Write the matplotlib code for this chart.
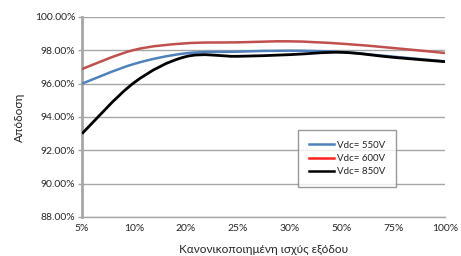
import matplotlib
matplotlib.use("Agg")
import matplotlib.pyplot as plt
from matplotlib.path import Path
from matplotlib.patches import PathPatch
from matplotlib.lines import Line2D
from matplotlib.ticker import FuncFormatter

categories = ["5%", "10%", "20%", "25%", "30%", "50%", "75%", "100%"]
vdc550 = [96.00, 97.18, 97.82, 97.92, 97.98, 97.90, 97.62, 97.34]
vdc600 = [96.88, 98.02, 98.42, 98.48, 98.54, 98.40, 98.14, 97.84]
vdc850 = [93.00, 96.05, 97.62, 97.64, 97.74, 97.88, 97.58, 97.32]
labels = ["Vdc= 550V", "Vdc= 600V", "Vdc= 850V"]
line_colors = ["#4F81BD", "#C0504D", "#000000"]
legend_colors = ["#4F81BD", "#FF2020", "#000000"]

plt.rcParams['font.family'] = ['Lato', 'DejaVu Sans']

fig = plt.figure(figsize=(4.61, 2.56), dpi=100)
ax = fig.add_axes([82/461, 1-217/256, (445-82)/461, (217-17)/256])

def smooth_path(xs, ys):
    pts = list(zip(xs, ys))
    verts = [pts[0]]
    codes = [Path.MOVETO]
    n = len(pts)
    for i in range(n - 1):
        p0 = pts[i - 1] if i > 0 else pts[i]
        p1 = pts[i]
        p2 = pts[i + 1]
        p3 = pts[i + 2] if i + 2 < n else pts[i + 1]
        c1 = (p1[0] + (p2[0] - p0[0]) / 6, p1[1] + (p2[1] - p0[1]) / 6)
        c2 = (p2[0] - (p3[0] - p1[0]) / 6, p2[1] - (p3[1] - p1[1]) / 6)
        verts += [c1, c2, p2]
        codes += [Path.CURVE4] * 3
    return Path(verts, codes)

xs = list(range(len(categories)))
for series, col in zip([vdc550, vdc600, vdc850], line_colors):
    patch = PathPatch(smooth_path(xs, series), facecolor='none', edgecolor=col,
                      lw=2.0 if col == "#000000" else 1.8, zorder=3, capstyle='butt')
    ax.add_patch(patch)

ax.set_xlim(0, len(categories) - 1)
ax.set_ylim(88, 100)
ax.set_yticks([88, 90, 92, 94, 96, 98, 100])
ax.yaxis.set_major_formatter(FuncFormatter(lambda v, p: f"{v:.2f}%"))
ax.set_xticks(xs)
ax.set_xticklabels(categories)
ax.grid(axis='y', color='#A6A6A6', lw=1.0, zorder=0)
for s in ['top', 'right']:
    ax.spines[s].set_visible(False)
ax.spines['left'].set_color('#A6A6A6')
ax.spines['left'].set_linewidth(2.0)
ax.spines['bottom'].set_color('#A6A6A6')
ax.spines['bottom'].set_linewidth(1.0)
ax.tick_params(axis='y', length=3, width=1, color='#A6A6A6', labelsize=7.5, pad=2, labelcolor='#262626')
ax.tick_params(axis='x', length=0, labelsize=7.5, pad=5, labelcolor='#262626')
ax.set_ylabel("Απόδοση", fontsize=8.5, color='#262626', labelpad=7)
ax.set_xlabel("Κανονικοποιημένη ισχύς εξόδου", fontsize=8.5, color='#262626', labelpad=8)

handles = [Line2D([0], [0], color=c, lw=1.8) for c in legend_colors]
leg = fig.legend(handles, labels, loc='upper left', bbox_to_anchor=(298/461, 1-130/256),
                 fontsize=7, frameon=True, fancybox=False, edgecolor='#808080',
                 handlelength=2.6, handletextpad=0.3, borderpad=1.1, labelspacing=0.45,
                 borderaxespad=0)
leg.get_frame().set_linewidth(1.0)
for t in leg.get_texts():
    t.set_color('#262626')

fig.savefig("out.png", dpi=100)
